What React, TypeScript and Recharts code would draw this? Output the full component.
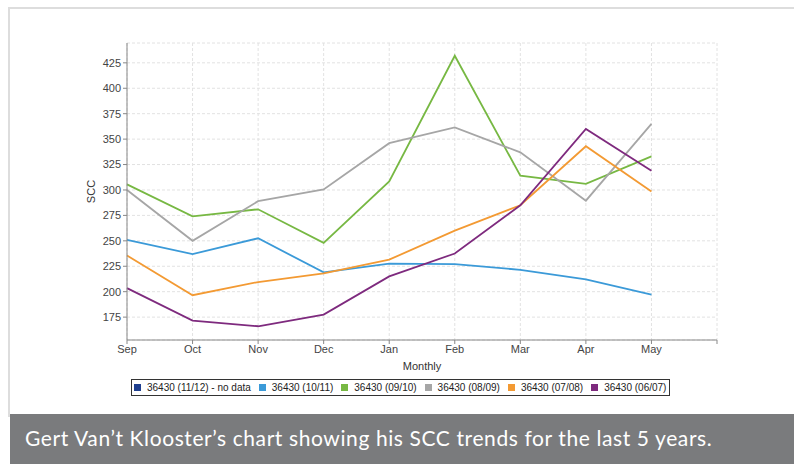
import React from 'react';
import { LineChart, Line, XAxis, YAxis, CartesianGrid, Legend } from 'recharts';

const months = ['Sep', 'Oct', 'Nov', 'Dec', 'Jan', 'Feb', 'Mar', 'Apr', 'May', ''];
const yTicks = [175, 200, 225, 250, 275, 300, 325, 350, 375, 400, 425];

const s1112: (number | null)[] = [];
const s1011 = [251, 237, 252.5, 219, 227.5, 227, 221.5, 212, 197];
const s0910 = [305.5, 274, 281, 248, 308.5, 432, 314, 306, 333];
const s0809 = [300, 250, 289, 300.5, 346, 361.5, 337, 289.5, 365];
const s0708 = [235.5, 196.5, 209.5, 218, 231.5, 260, 285, 343, 298.5];
const s0607 = [203.5, 171.5, 166, 177.5, 215, 237.5, 285, 360, 319];

const seriesNames = ['36430 (11/12) - no data', '36430 (10/11)', '36430 (09/10)', '36430 (08/09)', '36430 (07/08)', '36430 (06/07)'];
const seriesColors = ['#1f3f8f', '#3b9ad8', '#77b843', '#a6a6a6', '#f39a33', '#7e2a7e'];
const seriesValues = [s1112, s1011, s0910, s0809, s0708, s0607];

const data = months.map((m, i) => {
  const row: any = { month: m };
  seriesValues.forEach((vals, k) => {
    row['s' + k] = vals[i] ?? null;
  });
  return row;
});

const font = '"Liberation Sans", Arial, sans-serif';

const LegendBox = (props: any) => {
  const payload = [...(props.payload || [])].sort(
    (a: any, b: any) => seriesNames.indexOf(a.value) - seriesNames.indexOf(b.value)
  );
  return (
    <div style={{ display: 'inline-flex', alignItems: 'center', border: '1px solid #333', height: 15, padding: '0 3px 0 2px', fontFamily: font, fontSize: 10, color: '#222', whiteSpace: 'nowrap', background: '#fff' }}>
      {payload.map((p: any, i: number) => (
        <span key={i} style={{ display: 'inline-flex', alignItems: 'center', marginRight: i < payload.length - 1 ? 8 : 0 }}>
          <span style={{ display: 'inline-block', width: 7, height: 7, background: p.color, marginRight: 6 }} />
          {p.value}
        </span>
      ))}
    </div>
  );
};

export default function App() {
  return (
    <div style={{ position: 'absolute', left: 0, top: 0, width: 794, height: 464, background: '#fff', overflow: 'hidden' }}>
      <div style={{ position: 'absolute', left: 9, top: 7, width: 785, height: 2, background: '#dddddd' }} />
      <div style={{ position: 'absolute', left: 8, top: 7, width: 2, height: 410, background: '#dddddd' }} />
      <div style={{ position: 'absolute', left: 0, top: 0 }}>
        <LineChart width={794} height={464} data={data} margin={{ top: 43, right: 77, left: 0, bottom: 73 }}>
          <CartesianGrid stroke="#e2e2e2" strokeDasharray="3 2" />
          <XAxis
            dataKey="month"
            height={32}
            tick={{ fontSize: 11, fill: '#444', fontFamily: font }}
            tickSize={4}
            tickMargin={1}
            stroke="#888"
            interval={0}
            label={{ value: 'Monthly', position: 'insideBottom', offset: 2, fontSize: 11, fill: '#333', fontFamily: font }}
          />
          <XAxis xAxisId="top" dataKey="month" orientation="top" height={0} tick={false} tickLine={false} stroke="#c4c4c4" />
          <YAxis
            width={127}
            domain={[152.5, 444.5]}
            ticks={yTicks}
            interval={0}
            tick={{ fontSize: 11, fill: '#444', fontFamily: font }}
            tickSize={4}
            tickMargin={2}
            stroke="#888"
            label={{ value: 'SCC', angle: -90, position: 'center', dx: 28, fontSize: 11, fill: '#333', fontFamily: font }}
          />
          <YAxis yAxisId="right" orientation="right" width={0} domain={[152.5, 444.5]} tick={false} tickLine={false} stroke="#c4c4c4" />
          {seriesNames.map((name, k) => (
            <Line
              key={name}
              type="linear"
              dataKey={'s' + k}
              name={name}
              stroke={seriesColors[k]}
              strokeWidth={1.8}
              dot={false}
              activeDot={false}
              isAnimationActive={false}
            />
          ))}
          <Legend
            content={<LegendBox />}
            wrapperStyle={{ position: 'absolute', left: 131, top: 377, width: 'auto', bottom: 'auto', height: 'auto' }}
          />
        </LineChart>
      </div>
      <div style={{ position: 'absolute', left: 10, top: 414, width: 784, height: 50, background: '#7a7b7d', color: '#fff', fontFamily: 'Lato, sans-serif', fontSize: 21, letterSpacing: 0.6, lineHeight: '48px', paddingLeft: 15, boxSizing: 'border-box', whiteSpace: 'nowrap' }}>
        Gert Van’t Klooster’s chart showing his SCC trends for the last 5 years.
      </div>
    </div>
  );
}
